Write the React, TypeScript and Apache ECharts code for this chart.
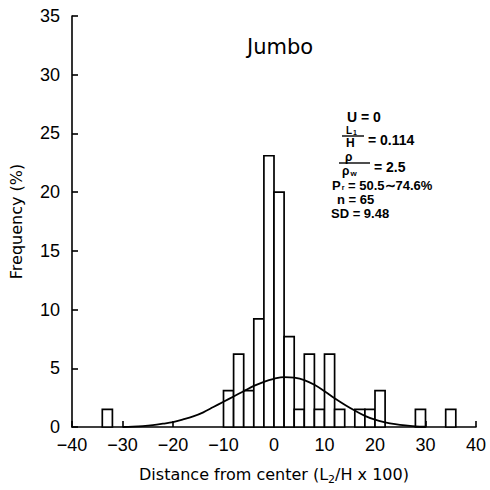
import React, { useEffect, useRef } from "react";
import * as echarts from "echarts";

// Histogram bins (start of each 2-unit bin) and frequencies in %
const binStarts = [-34, -10, -8, -6, -4, -2, 0, 2, 4, 6, 8, 10, 12, 16, 18, 20, 28, 34];
const binWidth = 2;
const frequencies = [1.5, 3.1, 6.2, 3.1, 9.2, 23.1, 20.0, 7.7, 1.5, 6.2, 1.5, 6.2, 1.5, 1.5, 1.5, 3.1, 1.5, 1.5];

// Fitted curve
const curveX = [-30, -28, -26, -24, -22, -20, -18, -16, -14, -12, -10, -8, -6, -4, -2, 0, 2, 4, 6, 8, 10, 12, 14, 16, 18, 20, 22, 24, 26, 28, 30];
const curveY = [0.0, 0.03, 0.08, 0.16, 0.28, 0.42, 0.64, 0.9, 1.25, 1.7, 2.15, 2.6, 3.05, 3.5, 3.85, 4.1, 4.25, 4.2, 4.0, 3.6, 3.05, 2.45, 1.9, 1.4, 0.95, 0.62, 0.4, 0.24, 0.13, 0.06, 0.02];

const xTicks = [-40, -30, -20, -10, 0, 10, 20, 30, 40];
const yTicks = [0, 5, 10, 15, 20, 25, 30, 35];

const ANN_FONT = "Liberation Sans";

export default function App() {
  const ref = useRef<HTMLDivElement>(null);
  useEffect(() => {
    if (!ref.current) return;
    const chart = echarts.init(ref.current, null, { renderer: "svg" });
    const barData = binStarts.map((s, i) => [s, s + binWidth, frequencies[i]]);
    const lineData = curveX.map((x, i) => [x, curveY[i]]);
    const subRich = (size: number) => ({
      s: { fontSize: size, fontWeight: "bold", fontFamily: ANN_FONT, fill: "#000", padding: [5, 0, 0, 1] },
    });
    const annText = (text: string, x: number, y: number, size = 13, subSize = 0) => ({
      type: "text",
      x,
      y,
      z: 10,
      style: {
        text,
        fill: "#000",
        fontSize: size,
        fontWeight: "bold",
        fontFamily: ANN_FONT,
        align: "left",
        verticalAlign: "middle",
        ...(subSize ? { rich: subRich(subSize) } : {}),
      },
    });
    const annLine = (x1: number, y1: number, x2: number, y2: number) => ({
      type: "line",
      z: 10,
      shape: { x1, y1, x2, y2 },
      style: { stroke: "#000", lineWidth: 1.4 },
    });
    chart.setOption({
      animation: false,
      backgroundColor: "#fff",
      grid: { left: 72, right: 14, top: 16, bottom: 53, containLabel: false },
      xAxis: {
        type: "value",
        min: xTicks[0],
        max: xTicks[xTicks.length - 1],
        interval: 10,
        name: "Distance from center (L{sub|2}/H x 100)",
        nameLocation: "middle",
        nameGap: 37,
        nameTextStyle: {
          fontFamily: "DejaVu Sans",
          fontSize: 16,
          color: "#000",
          rich: {
            sub: { fontFamily: "DejaVu Sans", fontSize: 11, color: "#000", verticalAlign: "bottom", padding: [10, 0, 0, 0] },
          },
        },
        axisLine: { show: true, onZero: false, lineStyle: { color: "#000", width: 1.6 } },
        axisTick: { show: true, inside: true, length: 6, lineStyle: { color: "#000", width: 1.6 } },
        axisLabel: {
          color: "#000",
          fontFamily: "Liberation Sans",
          fontSize: 18,
          margin: 9,
          formatter: (v: number) => String(v).replace("-", "\u2212"),
        },
        splitLine: { show: false },
      },
      yAxis: {
        type: "value",
        min: yTicks[0],
        max: yTicks[yTicks.length - 1],
        interval: 5,
        name: "Frequency (%)",
        nameLocation: "middle",
        nameGap: 48,
        nameRotate: 90,
        nameTextStyle: { fontFamily: "DejaVu Sans", fontSize: 16, color: "#000" },
        axisLine: { show: true, onZero: false, lineStyle: { color: "#000", width: 1.6 } },
        axisTick: { show: true, inside: true, length: 6, lineStyle: { color: "#000", width: 1.6 } },
        axisLabel: { color: "#000", fontFamily: "Liberation Sans", fontSize: 18, margin: 12 },
        splitLine: { show: false },
      },
      series: [
        {
          type: "custom",
          data: barData,
          encode: { x: [0, 1], y: 2 },
          z: 2,
          renderItem: (params: any, api: any) => {
            const x0 = api.value(0);
            const x1 = api.value(1);
            const y = api.value(2);
            const p0 = api.coord([x0, y]);
            const p1 = api.coord([x1, 0]);
            return {
              type: "rect",
              shape: { x: p0[0], y: p0[1], width: p1[0] - p0[0], height: p1[1] - p0[1] },
              style: { fill: "#fff", stroke: "#000", lineWidth: 1.7 },
            };
          },
        },
        {
          type: "line",
          data: lineData,
          smooth: 0.4,
          showSymbol: false,
          symbol: "none",
          z: 3,
          lineStyle: { color: "#000", width: 1.8 },
        },
      ],
      graphic: [
        {
          type: "text",
          x: 280,
          y: 47,
          style: {
            text: "Jumbo",
            fill: "#000",
            fontSize: 21,
            fontFamily: "DejaVu Sans",
            align: "center",
            verticalAlign: "middle",
          },
        },
        annText("U = 0", 347, 117, 14),
        annText("L{s|1}", 346, 130, 10, 7),
        annLine(342, 136, 364, 136),
        annText("H", 346, 143, 12),
        annText("= 0.114", 368, 140, 14),
        annText("\u03c1", 345, 157, 12),
        annLine(339, 163, 370, 163),
        annText("\u03c1{s|w}", 342, 171, 12, 8),
        annText("= 2.5", 374, 167, 14),
        annText("P{s|r} = 50.5\u223c74.6%", 332, 185, 13, 7),
        annText("n = 65", 337, 199, 13),
        annText("SD = 9.48", 331, 213, 13),
      ],
    });
    return () => chart.dispose();
  }, []);
  return <div ref={ref} style={{ position: "fixed", left: 0, top: 0, width: 490, height: 490 }} />;
}
